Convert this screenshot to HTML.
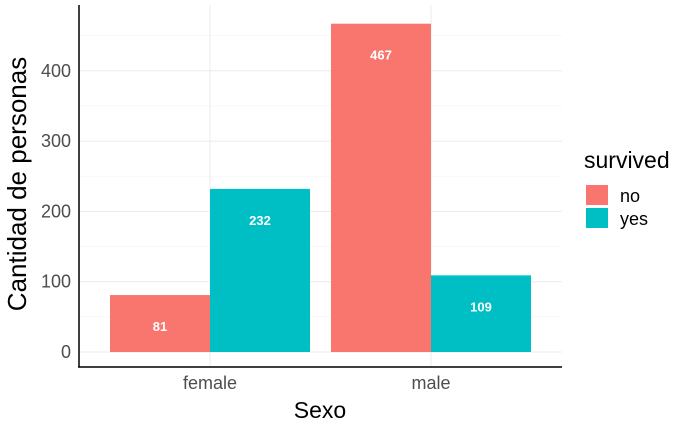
<!DOCTYPE html>
<html><head><meta charset="utf-8"><style>
body{margin:0;background:#fff;}
svg text{font-family:"Liberation Sans",sans-serif;}
</style></head><body>
<svg id="chart" width="700" height="432"></svg>
<script>
const categories=["female","male"];
const seriesNames=["no","yes"];
const seriesNo=[81,467];
const seriesYes=[232,109];
const yTicks=[0,100,200,300,400];
const colors=["#F8766D","#00BFC4"];
const NS="http://www.w3.org/2000/svg";
const svg=document.getElementById("chart");
function mk(t,a,p){const e=document.createElementNS(NS,t);for(const k in a)e.setAttribute(k,a[k]);(p||svg).appendChild(e);return e;}
const y0=352,pxPer=0.703;
function yS(v){return y0-v*pxPer;}
const centers=[210,431];const bw=100;
function xS(i){return centers[i];}
for(let v=0;v<=450;v+=50){const g=mk("line",{x1:79,x2:562,y1:yS(v),y2:yS(v),stroke:v%100===0?"#ebebeb":"#f3f3f3","stroke-width":v%100===0?1:0.6});
}
categories.forEach((c,i)=>{const g=mk("line",{x1:xS(i),x2:xS(i),y1:5,y2:367,stroke:"#ebebeb"});
});
const series=[seriesNo,seriesYes];
series.forEach((s,si)=>{s.forEach((v,i)=>{
const x=xS(i)+(si===0?-bw:0);
const r=mk("rect",{x:x,y:yS(v),width:bw,height:yS(0)-yS(v),fill:colors[si]});


const t=mk("text",{x:x+bw/2,y:yS(v)+36,"text-anchor":"middle","font-size":13,"font-weight":"bold",fill:"#fff"});
t.textContent=v;


});});
const ax=mk("line",{x1:79,x2:79,y1:5,y2:367,stroke:"#000","stroke-width":1.5});

const bx=mk("line",{x1:78,x2:562,y1:367,y2:367,stroke:"#000","stroke-width":1.5});

yTicks.forEach(v=>{const t=mk("text",{x:71,y:yS(v)+6,"text-anchor":"end","font-size":18,fill:"#4d4d4d"});t.textContent=v;
});
categories.forEach((c,i)=>{const t=mk("text",{x:xS(i),y:389,"text-anchor":"middle","font-size":18,fill:"#4d4d4d"});t.textContent=c;
});
const xt=mk("text",{x:320,y:418,"text-anchor":"middle","font-size":23,fill:"#000"});xt.textContent="Sexo";

const yt=mk("text",{x:0,y:0,"text-anchor":"middle","font-size":26,fill:"#000",transform:"translate(26,184) rotate(-90)"});yt.textContent="Cantidad de personas";

const lt=mk("text",{x:584,y:168,"font-size":23,fill:"#000"});lt.textContent="survived";

seriesNames.forEach((n,i)=>{
const r=mk("rect",{x:586,y:185+i*23,width:22,height:20,fill:colors[i]});

const t=mk("text",{x:620,y:202+i*23,"font-size":18,fill:"#000"});t.textContent=n;

});
</script>
</body></html>
